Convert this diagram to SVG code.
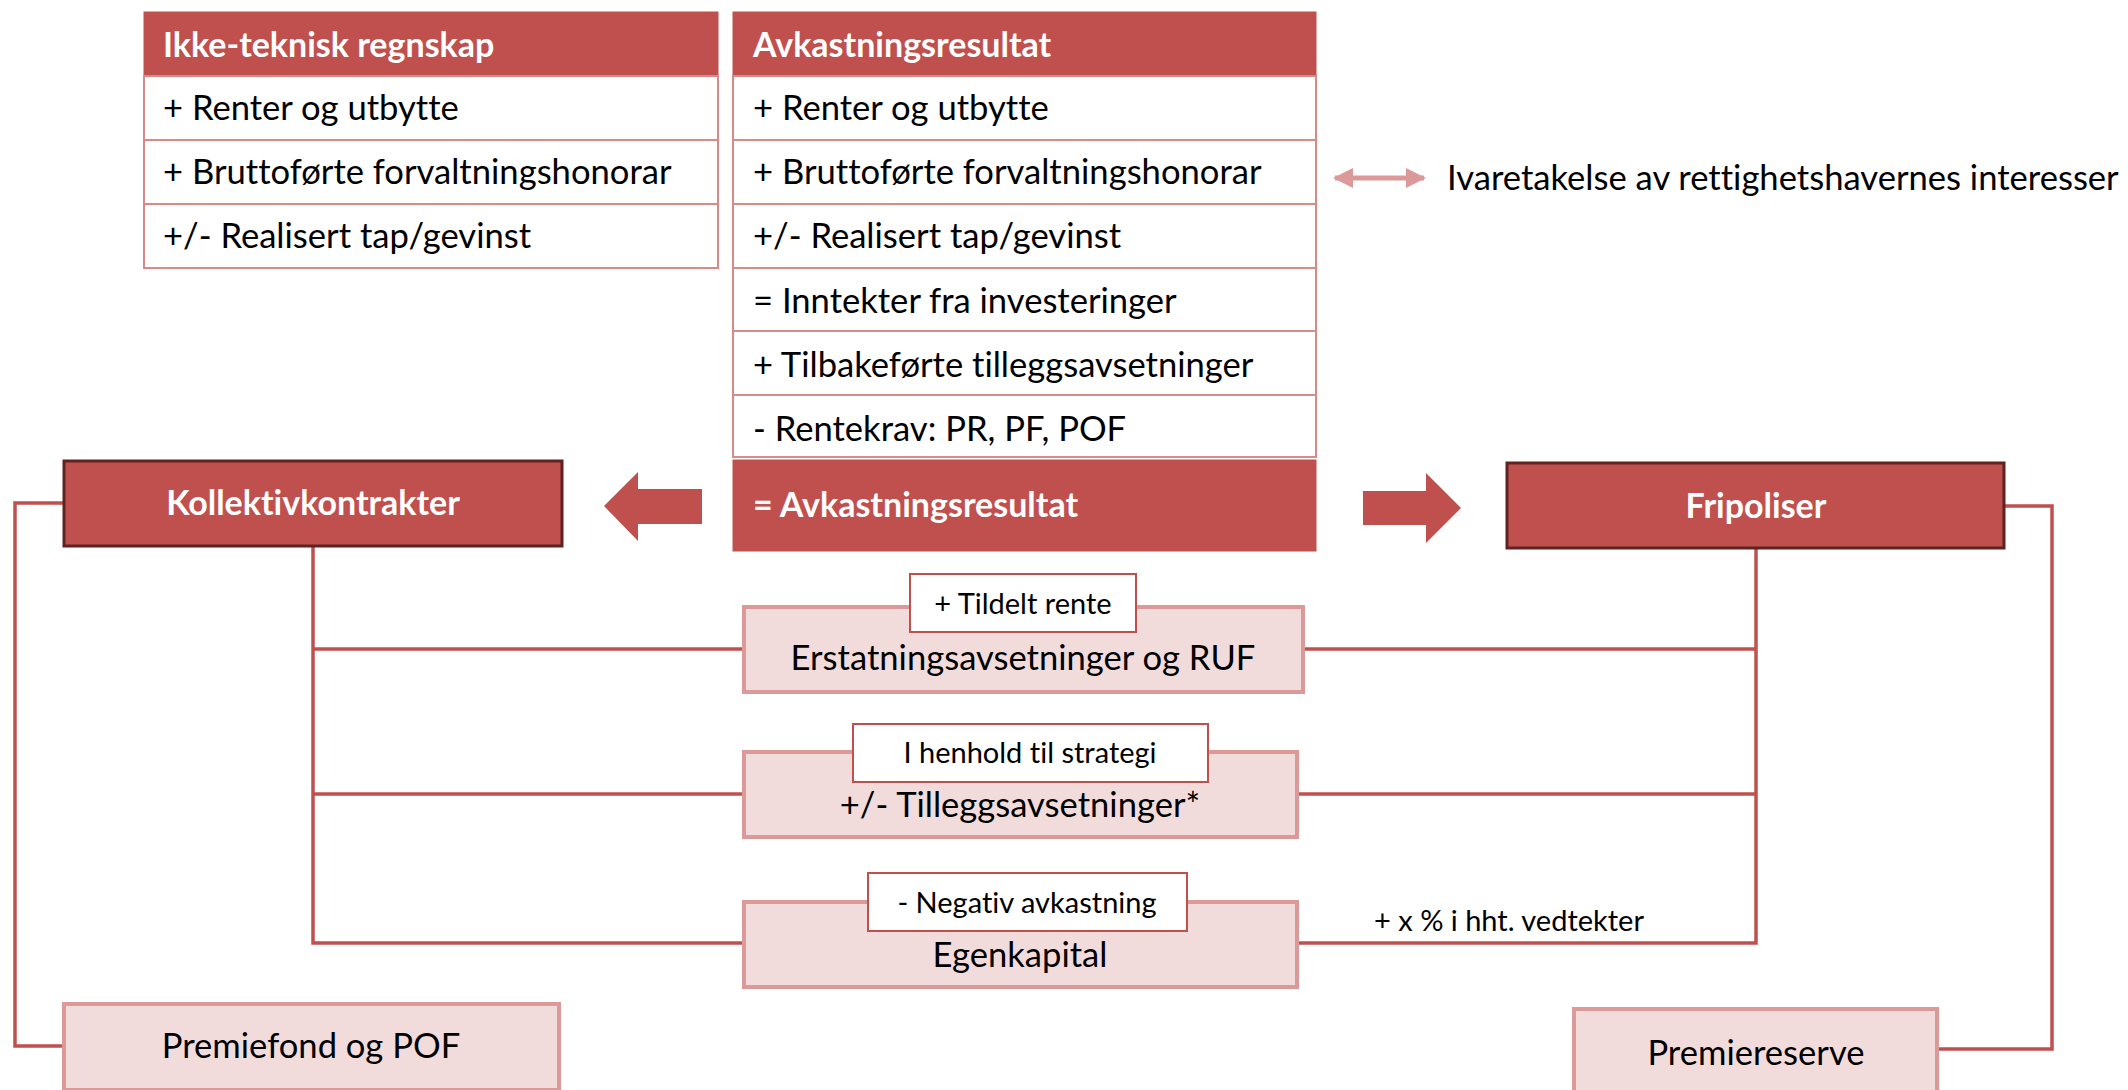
<svg xmlns="http://www.w3.org/2000/svg" width="2128" height="1090" viewBox="0 0 2128 1090">
<defs>
<style>
text{font-variant-ligatures:none}
.hdr{fill:#C0504D;stroke:#C0504D;stroke-width:1}
.row{fill:#FFFFFF;stroke:#D98A88;stroke-width:2}
.ht{font-family:Lato,"Open Sans",sans-serif;font-weight:bold;font-size:34px;fill:#FFFFFF}
.rt{font-family:Lato,"Open Sans",sans-serif;font-size:34.6px;fill:#000000}
.big{fill:#C0504D;stroke:#5E2221;stroke-width:3}
.pink{fill:#F2DCDB;stroke:#DB9A99;stroke-width:4}
.lbl{fill:#FFFFFF;stroke:#C0504D;stroke-width:2}
.lt{font-family:Lato,"Open Sans",sans-serif;font-size:29px;fill:#000000;text-anchor:middle}
.mt{font-family:Lato,"Open Sans",sans-serif;font-size:34.6px;fill:#000000;text-anchor:middle}
.bt{font-family:Lato,"Open Sans",sans-serif;font-weight:bold;font-size:34px;fill:#FFFFFF;text-anchor:middle}
.con{fill:none;stroke:#C0504D;stroke-width:3.5}
.arr{fill:#C0504D}
</style>
<marker id="dh" viewBox="0 0 10 10" refX="9" refY="5" markerWidth="4" markerHeight="4" orient="auto-start-reverse">
<path d="M0,0 L10,5 L0,10 z" fill="#DB9A99"/>
</marker>
</defs>
<rect width="2128" height="1090" fill="#FFFFFF"/>

<g id="connectors">
<path class="con" d="M313,546 V943 H744"/>
<path class="con" d="M313,649 H744"/>
<path class="con" d="M313,794 H744"/>
<path class="con" d="M1756,548 V943 H1297"/>
<path class="con" d="M1756,649 H1303"/>
<path class="con" d="M1756,794 H1297"/>
<path class="con" d="M64,503 H15 V1046 H64"/>
<path class="con" d="M2004,506 H2052 V1049 H1937"/>
<line x1="1335" y1="178" x2="1424" y2="178" stroke="#DB9A99" stroke-width="5" marker-start="url(#dh)" marker-end="url(#dh)"/>
<polygon class="arr" points="604,506 638,472 638,489 702,489 702,524 638,524 638,541"/>
<polygon class="arr" points="1461,508 1426,473 1426,491 1363,491 1363,525 1426,525 1426,543"/>
</g>

<g id="ikke-teknisk">
<rect class="hdr" x="144" y="12" width="574" height="64"/>
<text class="ht" x="163" y="57">Ikke-teknisk regnskap</text>
<rect class="row" x="144" y="76" width="574" height="64"/>
<text class="rt" x="163" y="120">+ Renter og utbytte</text>
<rect class="row" x="144" y="140" width="574" height="64"/>
<text class="rt" x="163" y="184">+ Bruttoførte forvaltningshonorar</text>
<rect class="row" x="144" y="204" width="574" height="64"/>
<text class="rt" x="163" y="248">+/- Realisert tap/gevinst</text>
</g>

<g id="avkastningsresultat">
<rect class="hdr" x="733" y="12" width="583" height="64"/>
<text class="ht" x="753" y="57">Avkastningsresultat</text>
<rect class="row" x="733" y="76" width="583" height="64"/>
<text class="rt" x="753" y="120">+ Renter og utbytte</text>
<rect class="row" x="733" y="140" width="583" height="64"/>
<text class="rt" x="753" y="184">+ Bruttoførte forvaltningshonorar</text>
<rect class="row" x="733" y="204" width="583" height="64"/>
<text class="rt" x="753" y="248">+/- Realisert tap/gevinst</text>
<rect class="row" x="733" y="268" width="583" height="63"/>
<text class="rt" x="753" y="313">= Inntekter fra investeringer</text>
<rect class="row" x="733" y="331" width="583" height="64"/>
<text class="rt" x="753" y="377">+ Tilbakeførte tilleggsavsetninger</text>
<rect class="row" x="733" y="395" width="583" height="62"/>
<text class="rt" x="753" y="441">- Rentekrav: PR, PF, POF</text>
<rect class="hdr" x="733" y="460" width="583" height="91"/>
<text class="ht" x="753" y="517">= Avkastningsresultat</text>
</g>

<g id="ivaretakelse">
<text class="rt" x="1447" y="190">Ivaretakelse av rettighetshavernes interesser</text>
</g>

<g id="kollektivkontrakter">
<rect class="big" x="64" y="461" width="498" height="85"/>
<text class="bt" x="313" y="515">Kollektivkontrakter</text>
</g>

<g id="fripoliser">
<rect class="big" x="1507" y="463" width="497" height="85"/>
<text class="bt" x="1756" y="518">Fripoliser</text>
</g>

<g id="erstatning">
<rect class="pink" x="744" y="607" width="559" height="85"/>
<text class="mt" x="1023" y="670">Erstatningsavsetninger og RUF</text>
<rect class="lbl" x="910" y="574" width="226" height="58"/>
<text class="lt" x="1023" y="614">+ Tildelt rente</text>
</g>

<g id="tillegg">
<rect class="pink" x="744" y="752" width="553" height="85"/>
<text class="mt" x="1020" y="817">+/- Tilleggsavsetninger*</text>
<rect class="lbl" x="853" y="724" width="355" height="58"/>
<text class="lt" x="1030" y="763">I henhold til strategi</text>
</g>

<g id="egenkapital">
<rect class="pink" x="744" y="902" width="553" height="85"/>
<text class="mt" x="1020" y="967">Egenkapital</text>
<rect class="lbl" x="868" y="873" width="319" height="58"/>
<text class="lt" x="1027" y="913">- Negativ avkastning</text>
</g>

<g id="vedtekter">
<text class="lt" x="1509" y="931">+ x % i hht. vedtekter</text>
</g>

<g id="premiefond">
<rect class="pink" x="64" y="1004" width="495" height="86"/>
<text class="mt" x="311" y="1058">Premiefond og POF</text>
</g>

<g id="premiereserve">
<rect class="pink" x="1574" y="1009" width="363" height="86"/>
<text class="mt" x="1756" y="1065">Premiereserve</text>
</g>
</svg>
